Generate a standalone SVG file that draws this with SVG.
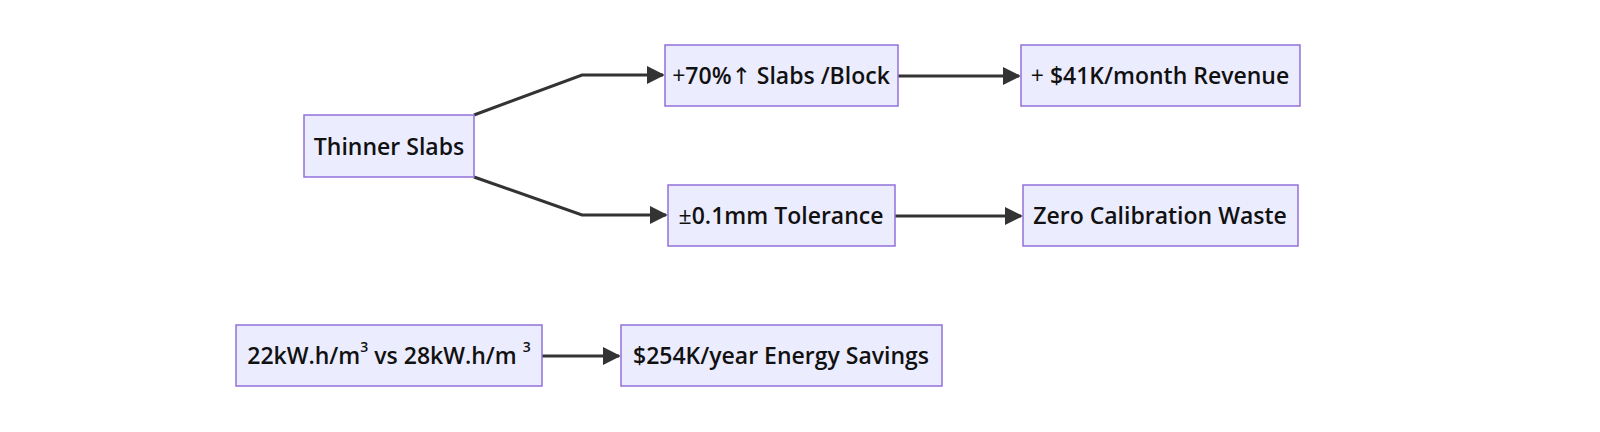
<svg xmlns="http://www.w3.org/2000/svg" width="1600" height="432" viewBox="0 0 1600 432">
<style>
.node rect{fill:#ECECFF;stroke:#9370DB;stroke-width:1.5}
.node text{font-family:"Open Sans","Noto Sans","DejaVu Sans",sans-serif;font-weight:600;font-size:23px;fill:#111;text-anchor:middle;dominant-baseline:central}
.lt{font-weight:400}
.edge{fill:none;stroke:#333;stroke-width:3}
</style>
<defs>
<marker id="arr" viewBox="0 0 10 10" refX="9" refY="5" markerWidth="6" markerHeight="6" markerUnits="strokeWidth" orient="auto">
<path d="M0,0 L10,5 L0,10 z" fill="#333"/>
</marker>
</defs>
<rect width="1600" height="432" fill="#fff"/>
<g id="connectors">
<path class="edge" d="M474,115 L582,75 L663,75" marker-end="url(#arr)"/>
<path class="edge" d="M474,177 L582,215 L666,215" marker-end="url(#arr)"/>
<path class="edge" d="M898,76 L1019,76" marker-end="url(#arr)"/>
<path class="edge" d="M895,216 L1021,216" marker-end="url(#arr)"/>
<path class="edge" d="M542,356 L619,356" marker-end="url(#arr)"/>
</g>
<g id="thinner" class="node"><rect x="304" y="115" width="170" height="62"/><text x="389" y="146">Thinner Slabs</text></g>
<g id="slabs" class="node"><rect x="665" y="45" width="233" height="61"/><text x="781" y="75"><tspan class="lt">+</tspan>70%<tspan class="lt">↑</tspan> Slabs /Block</text></g>
<g id="revenue" class="node"><rect x="1021" y="45" width="279" height="61"/><text x="1160" y="75"><tspan class="lt">+</tspan> $41K/month Revenue</text></g>
<g id="tolerance" class="node"><rect x="668" y="185" width="227" height="61"/><text x="781" y="215"><tspan class="lt">±</tspan>0.1mm Tolerance</text></g>
<g id="waste" class="node"><rect x="1023" y="185" width="275" height="61"/><text x="1160" y="215">Zero Calibration Waste</text></g>
<g id="energy" class="node"><rect x="236" y="325" width="306" height="61"/><text x="389" y="355">22kW.h/m<tspan font-size="14" dy="-9">3</tspan><tspan dy="9"> vs 28kW.h/m </tspan><tspan font-size="14" dy="-9">3</tspan></text></g>
<g id="savings" class="node"><rect x="621" y="325" width="321" height="61"/><text x="781" y="355">$254K/year Energy Savings</text></g>
</svg>
